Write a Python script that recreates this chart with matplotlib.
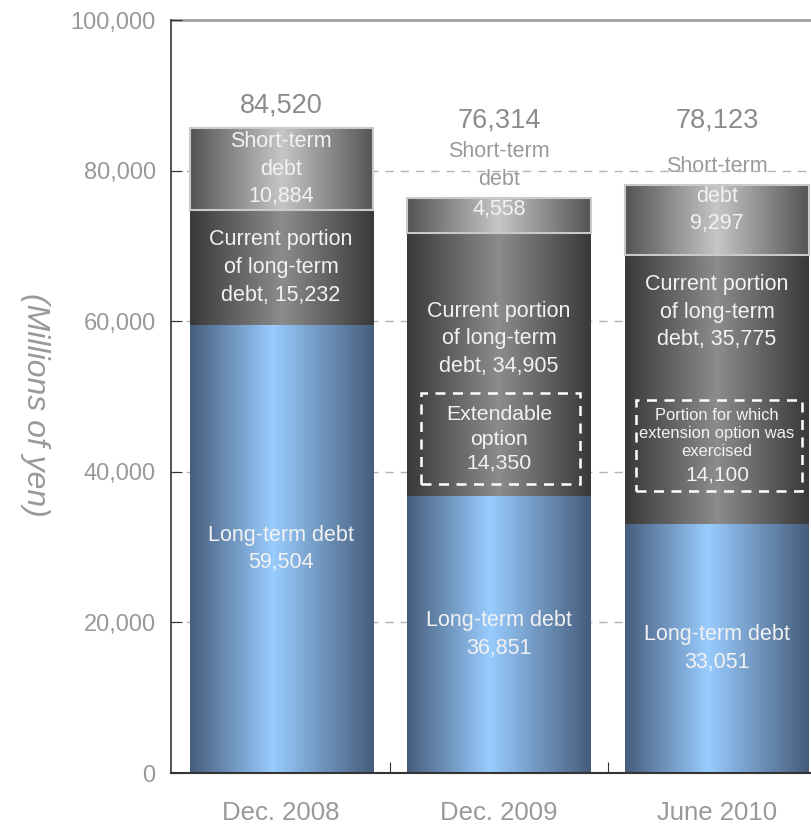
import numpy as np
import matplotlib.pyplot as plt
from matplotlib.colors import LinearSegmentedColormap
from matplotlib.patches import Rectangle

plt.rcParams['font.family'] = ['Liberation Sans', 'DejaVu Sans']

periods = ['Dec. 2008', 'Dec. 2009', 'June 2010']
long_term = [59504, 36851, 33051]
current_portion = [15232, 34905, 35775]
short_term = [10884, 4558, 9297]
totals = ['84,520', '76,314', '78,123']
extendable = [None, 14350, 14100]

# horizontal shading for each segment kind (edge -> centre -> edge)
cm_blue = LinearSegmentedColormap.from_list(
    'blue', [(0, '#465d7c'), (0.45, '#99ccff'), (1, '#465d7c')])
cm_dark = LinearSegmentedColormap.from_list(
    'dark', [(0, '#393939'), (0.5, '#8c8c8c'), (1, '#393939')])
cm_light = LinearSegmentedColormap.from_list(
    'light', [(0, '#545454'), (0.5, '#c6c6c6'), (1, '#545454')])

fig = plt.figure(figsize=(8.12, 8.26), dpi=100)
ax = fig.add_axes([171 / 812, 53 / 826, 1 - 171 / 812, 753 / 826])

x = np.arange(len(periods))
w = 0.84
grad = np.linspace(0, 1, 256).reshape(1, -1)


def shaded(bars, cmap, edge=None):
    for b in bars:
        x0, y0 = b.get_x(), b.get_y()
        x1, y1 = x0 + b.get_width(), y0 + b.get_height()
        im = ax.imshow(grad, cmap=cmap, aspect='auto', extent=(x0, x1, y0, y1),
                       zorder=2, interpolation='bicubic')
        im.set_clip_path(b)
        if edge:
            ax.add_patch(Rectangle((x0, y0), x1 - x0, y1 - y0, fill=False,
                                   ec=edge, lw=1.5, zorder=3))


b1 = ax.bar(x, long_term, w, color='none', zorder=2)
b2 = ax.bar(x, current_portion, w, bottom=long_term, color='none', zorder=2)
base3 = np.array(long_term) + np.array(current_portion)
b3 = ax.bar(x, short_term, w, bottom=base3, color='none', zorder=2)
shaded(b1, cm_blue)
shaded(b2, cm_dark)
shaded(b3, cm_light, edge='#c9c9c9')

ax.set_xlim(-0.505, 2.436)
ax.set_ylim(0, 100000)
ax.set_yticks(np.arange(0, 100001, 20000))
ax.set_yticklabels([f'{v:,}' for v in range(0, 100001, 20000)])
for v in range(20000, 100000, 20000):
    ax.axhline(v, color='#b3b3b3', lw=1, ls=(0, (6, 5)), zorder=1)
ax.axhline(100000, color='#a0a0a0', lw=2, zorder=1, clip_on=False)

ax.tick_params(axis='y', direction='in', length=8, colors='#333333',
               labelcolor='#999999', labelsize=17, pad=11)
ax.set_xticks([0.5, 1.5])
ax.set_xticklabels([])
ax.tick_params(axis='x', direction='in', length=8, colors='#333333')
for i, p in enumerate(periods):
    ax.text(i, -5300, p, ha='center', va='center', fontsize=18.5,
            color='#999999', clip_on=False)

ax.spines['top'].set_visible(False)
ax.spines['right'].set_visible(False)
ax.spines['left'].set_color('#333333')
ax.spines['bottom'].set_color('#333333')
ax.spines['left'].set_linewidth(1.2)
ax.spines['bottom'].set_linewidth(1.5)
ax.set_axisbelow(False)

fig.text(35 / 812, 1 - 405 / 826, '(Millions of yen)', rotation=270,
         style='italic', fontsize=23, color='#999999', ha='center', va='center')

white = '#f2f2f2'
grey = '#9a9a9a'
fs = 15.5
ls = 1.42

# totals above each bar
ax.text(0, 88600, totals[0], ha='center', va='center', fontsize=19.5, color='#8c8c8c')
ax.text(1, 86600, totals[1], ha='center', va='center', fontsize=19.5, color='#8c8c8c')
ax.text(2, 86600, totals[2], ha='center', va='center', fontsize=19.5, color='#8c8c8c')

# short-term debt labels
ax.text(0, base3[0] + short_term[0] / 2, f'Short-term\ndebt\n{short_term[0]:,}',
        ha='center', va='center', fontsize=fs, color=white, linespacing=ls, zorder=5)
ax.text(1, 80680, 'Short-term\ndebt', ha='center', va='center', fontsize=fs,
        color=grey, linespacing=ls, zorder=5)
ax.text(1, 74900, f'{short_term[1]:,}', ha='center',
        va='center', fontsize=fs, color=white, zorder=5)
ax.text(2, 80610, 'Short-term', ha='center', va='center', fontsize=fs,
        color=grey, zorder=0.5)
ax.text(2, 74770, f'debt\n{short_term[2]:,}', ha='center', va='center',
        fontsize=fs, color=white, linespacing=ls, zorder=5)

# current portion labels
cp_y = [long_term[0] + current_portion[0] / 2, 57640, 61220]
for i in range(3):
    ax.text(i, cp_y[i], f'Current portion\nof long-term\ndebt, {current_portion[i]:,}',
            ha='center', va='center', fontsize=fs, color=white,
            linespacing=ls, zorder=5)

# long-term debt labels
for i in range(3):
    ax.text(i, long_term[i] / 2, f'Long-term debt\n{long_term[i]:,}',
            ha='center', va='center', fontsize=fs, color=white,
            linespacing=ls, zorder=5)

# dashed boxes for the extension option
ax.add_patch(Rectangle((1 - 0.358, 38400), 0.73, 12050, fill=False, ec='white',
                       lw=1.8, ls=(0, (4, 3)), zorder=4))
ax.text(1, 44350, f'Extendable\noption\n{extendable[1]:,}', ha='center',
        va='center', fontsize=15.3, color=white, linespacing=1.35, zorder=5)
ax.add_patch(Rectangle((2 - 0.37, 37450), 0.76, 12050, fill=False, ec='white',
                       lw=1.8, ls=(0, (4, 3)), zorder=4))
ax.text(2, 45090, 'Portion for which\nextension option was\nexercised',
        ha='center', va='center', fontsize=11.9, color=white,
        linespacing=1.27, zorder=5)
ax.text(2, 39580, f'{extendable[2]:,}', ha='center', va='center',
        fontsize=15, color=white, zorder=5)

fig.savefig('out.png', dpi=100)
